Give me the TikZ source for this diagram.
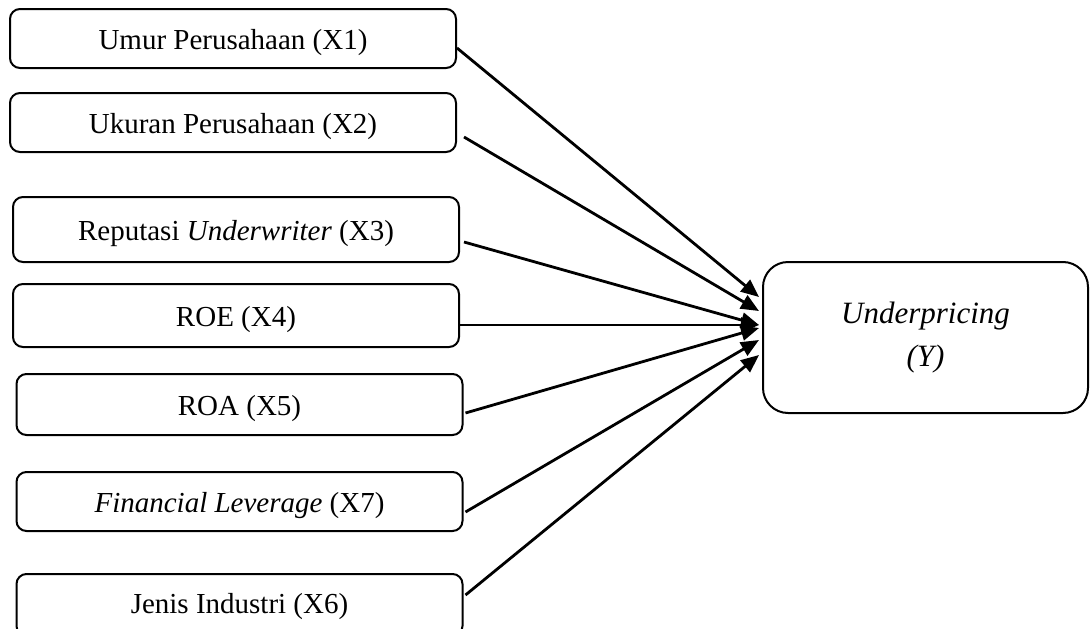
\documentclass[tikz,border=0pt]{standalone}
\usepackage{fontspec}
\setmainfont{Liberation Serif}
\usetikzlibrary{arrows.meta,calc}
\begin{document}
\begin{tikzpicture}[x=1pt,y=-1pt,
 var/.style={draw,line width=2pt,rounded corners=10pt,minimum width=446pt,inner sep=0pt,
   font=\fontsize{29}{34}\selectfont,text height=24pt,text depth=3pt,align=center},
 dep/.style={draw,line width=2pt,rounded corners=25pt,minimum width=325pt,minimum height=151pt,
   inner sep=0pt,font=\fontsize{31}{43}\selectfont\itshape,align=center},
 arr/.style={line width=2.8pt,-{Triangle[length=18pt,width=15pt]}}]
\useasboundingbox (0,0) rectangle (1090,629);
\node[var,minimum height=59pt] (x1) at (233,38.5) {Umur Perusahaan (X1)};
\node[var,minimum height=59pt] (x2) at (233,122.5) {Ukuran Perusahaan (X2)};
\node[var,minimum height=65pt] (x3) at (236,229.5) {Reputasi \textit{Underwriter} (X3)};
\node[var,minimum height=63pt] (x4) at (236,315.5) {ROE (X4)};
\node[var,minimum height=61pt] (x5) at (239.5,404.5) {ROA (X5)};
\node[var,minimum height=59pt] (x7) at (239.5,501.5) {\textit{Financial Leverage} (X7)};
\node[var,minimum height=62pt,text height=24pt,text depth=8pt] (x6) at (239.5,605) {Jenis Industri (X6)};
\node[dep] (y) at (925.5,337.5) {Underpricing\\(Y)};
\draw[arr] ($(x1.east)+(0,9.5)$) -- ($(y.west)+(-3,-40.5)$);
\draw[arr] ($(x2.east)+(7,14.5)$) -- ($(y.west)+(-3,-26.5)$);
\draw[arr] ($(x3.east)+(4,12.5)$) -- ($(y.west)+(-3,-12.5)$);
\draw[arr] ($(x4.east)+(0,9.5)$) -- ($(y.west)+(-3,-12.5)$);
\draw[arr] ($(x5.east)+(2,8.5)$) -- ($(y.west)+(-3,-9.5)$);
\draw[arr] ($(x7.east)+(2,10.5)$) -- ($(y.west)+(-3,2.5)$);
\draw[arr] ($(x6.east)+(2,-10)$) -- ($(y.west)+(-3,17.5)$);
\end{tikzpicture}
\end{document}
